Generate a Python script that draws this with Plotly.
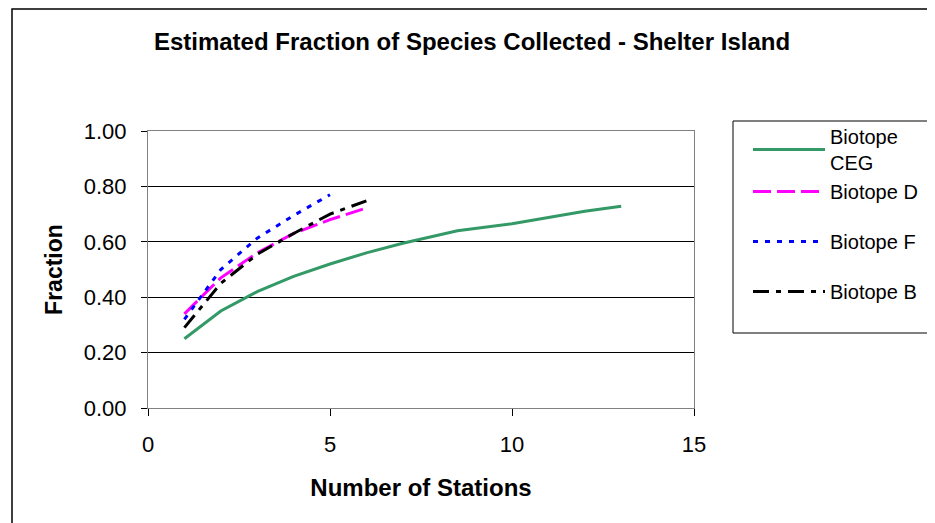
import plotly.graph_objects as go

ceg_x = [1, 2, 3, 4, 5, 6, 7, 8.5, 10, 11, 12, 13]
ceg_y = [0.25, 0.35, 0.42, 0.475, 0.52, 0.56, 0.595, 0.64, 0.665, 0.688, 0.71, 0.728]
d_x = [1, 2, 3, 4, 5, 6]
d_y = [0.34, 0.47, 0.56, 0.63, 0.68, 0.722]
f_x = [1, 2, 3, 4, 5]
f_y = [0.32, 0.50, 0.613, 0.695, 0.77]
b_x = [1, 2, 3, 4, 5, 6]
b_y = [0.29, 0.45, 0.555, 0.63, 0.70, 0.748]

title = "Estimated Fraction of Species Collected - Shelter Island"
x_title = "Number of Stations"
y_title = "Fraction"

fig = go.Figure()
fig.add_trace(go.Scatter(x=ceg_x, y=ceg_y, mode="lines", name="Biotope<br>CEG",
                         line=dict(color="#339966", width=3), legendgroup="a"))
fig.add_trace(go.Scatter(x=d_x, y=d_y, mode="lines", name="Biotope D",
                         line=dict(color="#FF00FF", width=3, dash="18px,6px"), legendgroup="a"))
fig.add_trace(go.Scatter(x=f_x, y=f_y, mode="lines", name="Biotope F",
                         line=dict(color="#0000FF", width=3, dash="5px,7px"), legendgroup="c"))
fig.add_trace(go.Scatter(x=b_x, y=b_y, mode="lines", name="Biotope B",
                         line=dict(color="#000000", width=3, dash="16px,7px,5px,7px"), legendgroup="d"))

# plot area in div pixels: left 140, right 686, top 123, bottom 400
L, R, T, B = 140, 686, 123, 400
W, H = R - L, B - T

def px(x):
    return (x - L) / W

def py(y):
    return (B - y) / H

font = "Arial, Liberation Sans, sans-serif"
fig.update_layout(
    width=935, height=523,
    margin=dict(l=L, r=935 - R, t=T, b=523 - B),
    paper_bgcolor="white", plot_bgcolor="white",
    font=dict(family=font, color="black"),
    title=dict(text="<b>" + title + "</b>", x=px(464), xref="paper", xanchor="center",
               y=1 - 34 / 523, yanchor="middle", font=dict(size=24, family=font)),
    xaxis=dict(range=[0, 15], tickvals=[0, 5, 10, 15], ticks="outside", ticklen=7,
               tickcolor="black", showgrid=False, zeroline=False, showline=True,
               linecolor="#808080", linewidth=1, mirror=True, ticklabelstandoff=10,
               tickfont=dict(size=22),
               title=dict(text="<b>" + x_title + "</b>", font=dict(size=24), standoff=22)),
    yaxis=dict(range=[0, 1.0], tickvals=[0, 0.2, 0.4, 0.6, 0.8, 1.0], tickformat=".2f",
               ticks="outside", ticklen=6, tickcolor="black", showgrid=True, gridcolor="black",
               gridwidth=1, zeroline=False, showline=True, linecolor="#808080", linewidth=1,
               mirror=True, tickfont=dict(size=22), ticklabelstandoff=10,
               title=dict(text="<b>" + y_title + "</b>", font=dict(size=23), standoff=14)),
    legend=dict(x=px(740), xanchor="left", y=py(109), yanchor="top", bgcolor="rgba(0,0,0,0)",
                borderwidth=0, font=dict(size=20, family=font), tracegroupgap=21,
                itemwidth=72),
    showlegend=True,
)
# legend box
fig.add_shape(type="rect", xref="paper", yref="paper",
              x0=px(725), x1=px(922), y0=py(325), y1=py(113),
              line=dict(color="black", width=1), fillcolor="rgba(0,0,0,0)")
# outer chart border
fig.add_shape(type="rect", xref="paper", yref="paper",
              x0=px(4), x1=px(924), y0=py(540), y1=py(1),
              line=dict(color="black", width=1.5), fillcolor="rgba(0,0,0,0)")

fig.write_html("out.html")
